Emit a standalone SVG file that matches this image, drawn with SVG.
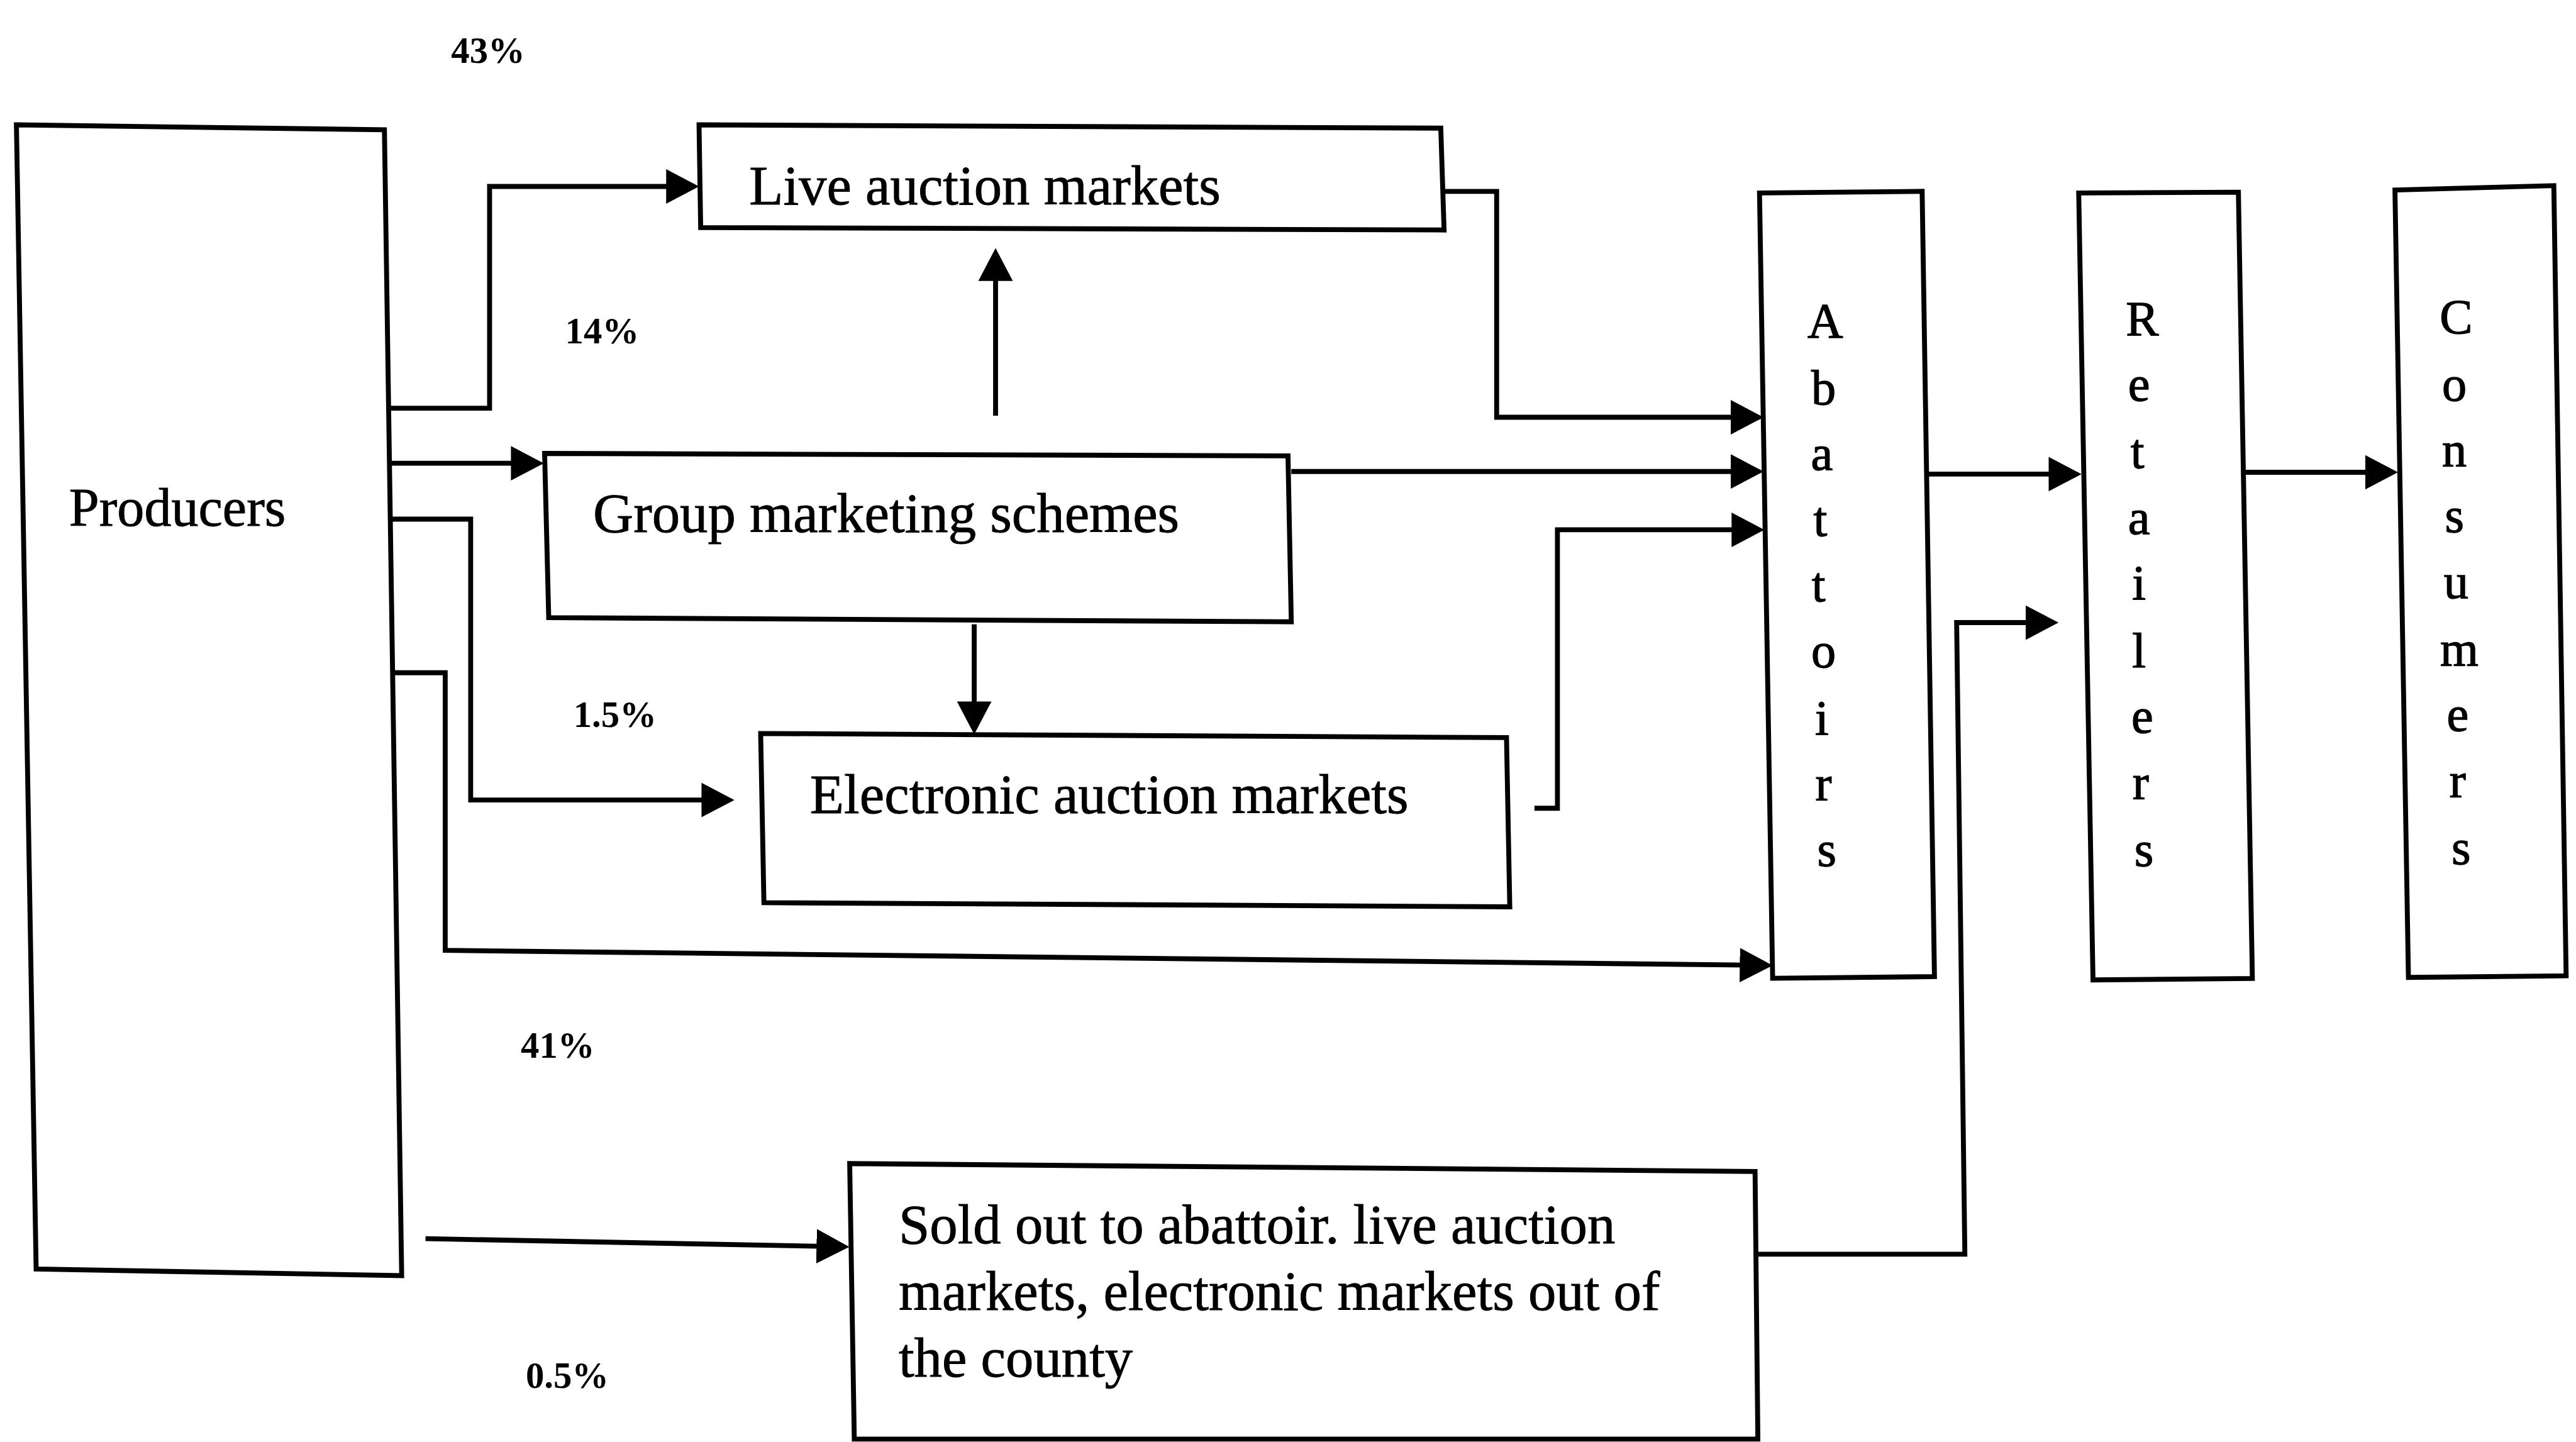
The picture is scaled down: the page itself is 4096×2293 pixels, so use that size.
<svg xmlns="http://www.w3.org/2000/svg" width="4096" height="2293" viewBox="0 0 4096 2293">
<style>
.box{fill:#fff;stroke:#000;stroke-width:3;stroke-linejoin:miter}
.ln{fill:none;stroke:#000;stroke-width:3;stroke-linejoin:miter}
.t{font-family:"Liberation Serif","Times New Roman",serif;font-size:34px;fill:#000;stroke:#000;stroke-width:0.35}
.v{font-family:"Liberation Serif","Times New Roman",serif;font-size:30px;fill:#000;stroke:#000;stroke-width:0.5;text-anchor:middle}
.p{font-family:"Liberation Serif","Times New Roman",serif;font-size:22.5px;font-weight:bold;fill:#000}
</style>
<defs>
<marker id="ah" markerUnits="userSpaceOnUse" markerWidth="22" markerHeight="24" viewBox="0 -11 22 22" refX="4" refY="0" orient="auto">
<path d="M0,-10.5 L20,0 L0,10.5 Z" fill="#000"/>
</marker>
</defs>
<rect width="4096" height="2293" fill="#fff"/>
<g transform="scale(2.612245)">
<g id="producers">
<polygon class="box" points="10,76 234,79 244.5,776.5 22,772.5"/>
<text class="t" x="42" y="320" style="font-size:33px">Producers</text>
</g>
<g id="live-auction-markets">
<polygon class="box" points="425.5,76 877,78 879,140 426.5,138.5"/>
<text class="t" x="456" y="124.5">Live auction markets</text>
</g>
<g id="group-marketing-schemes">
<polygon class="box" points="331.5,276 784,277.5 786,378.5 334,376"/>
<text class="t" x="361" y="324">Group marketing schemes</text>
</g>
<g id="electronic-auction-markets">
<polygon class="box" points="463,446.5 917,449 919,552 465,549.5"/>
<text class="t" x="493" y="495">Electronic auction markets</text>
</g>
<g id="sold-out">
<polygon class="box" points="517.2,708.3 1068.3,713.1 1070,876 520,876"/>
<text class="t" x="547" y="757">Sold out to abattoir. live auction</text>
<text class="t" x="547" y="797.5">markets, electronic markets out of</text>
<text class="t" x="547" y="838">the county</text>
</g>
<g id="abattoirs">
<polygon class="box" points="1071,117.5 1170,116.5 1177.5,594.5 1079,595.5"/>
<text class="v" x="1111" y="205">A</text>
<text class="v" x="1110" y="246">b</text>
<text class="v" x="1109" y="286">a</text>
<text class="v" x="1108" y="326">t</text>
<text class="v" x="1107" y="366">t</text>
<text class="v" x="1110" y="406">o</text>
<text class="v" x="1109" y="447">i</text>
<text class="v" x="1110" y="487">r</text>
<text class="v" x="1112" y="527">s</text>
</g>
<g id="retailers">
<polygon class="box" points="1265.3,117.5 1362.5,117 1371,595.6 1274,596.5"/>
<text class="v" x="1304" y="204">R</text>
<text class="v" x="1302" y="244">e</text>
<text class="v" x="1301" y="285">t</text>
<text class="v" x="1302" y="325">a</text>
<text class="v" x="1302" y="365">i</text>
<text class="v" x="1302" y="406">l</text>
<text class="v" x="1304" y="446">e</text>
<text class="v" x="1303" y="486">r</text>
<text class="v" x="1305" y="527">s</text>
</g>
<g id="consumers">
<polygon class="box" points="1457.8,115.7 1554.5,113 1562,594 1466,595"/>
<text class="v" x="1495" y="203">C</text>
<text class="v" x="1494" y="244">o</text>
<text class="v" x="1494" y="284">n</text>
<text class="v" x="1494" y="324">s</text>
<text class="v" x="1495" y="364">u</text>
<text class="v" x="1497" y="405">m</text>
<text class="v" x="1496" y="445">e</text>
<text class="v" x="1496" y="485">r</text>
<text class="v" x="1498" y="526">s</text>
</g>
<g id="connectors">
<path class="ln" marker-end="url(#ah)" d="M236,248.5 H298 V113.5 H409.5"/>
<path class="ln" marker-end="url(#ah)" d="M236,282 H315"/>
<path class="ln" marker-end="url(#ah)" d="M237,316 H286.5 V487 H431"/>
<path class="ln" marker-end="url(#ah)" d="M238,409.5 H271 V578.5 L1063,587.5"/>
<path class="ln" marker-end="url(#ah)" d="M259,754 L501,758.7"/>
<path class="ln" marker-end="url(#ah)" d="M606,253 V167"/>
<path class="ln" marker-end="url(#ah)" d="M593,380 V431"/>
<path class="ln" marker-end="url(#ah)" d="M786,287 H1057.5"/>
<path class="ln" marker-end="url(#ah)" d="M878,116.5 H911 V254 H1057.5"/>
<path class="ln" marker-end="url(#ah)" d="M934,492 H948 V322.5 H1058"/>
<path class="ln" marker-end="url(#ah)" d="M1174,288.6 H1251"/>
<path class="ln" marker-end="url(#ah)" d="M1366,287.5 H1443.6"/>
<path class="ln" marker-end="url(#ah)" d="M1069,763.5 H1196 L1191,379 H1237"/>
</g>
<g id="labels">
<text class="p" x="274.6" y="38.4">43%</text>
<text class="p" x="344" y="209">14%</text>
<text class="p" x="349" y="442.4">1.5%</text>
<text class="p" x="317" y="644">41%</text>
<text class="p" x="320" y="845">0.5%</text>
</g>
</g>
</svg>
